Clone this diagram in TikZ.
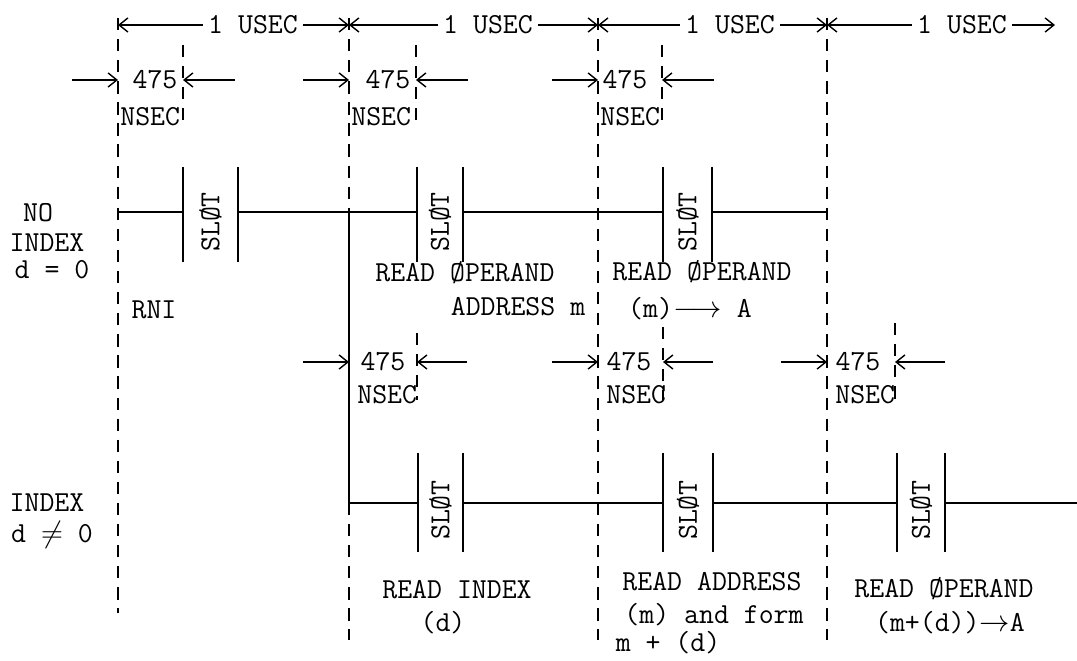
\documentclass[tikz,border=0pt]{standalone}
\usepackage{fontspec}
\usepackage{amsmath, amssymb}
\usetikzlibrary{arrows.meta}

\begin{document}
\begin{tikzpicture}[
                    x=0.02cm, y=-0.02cm,
                    txt/.style={font=\fontsize{16.5}{18}\selectfont\ttfamily, inner sep=0pt},
                    slotname/.style={txt, rotate=90},
                    bound/.style={line width=0.8pt, dash pattern=on 7pt off 5pt},
                    wave/.style={line width=1.2pt},
                    span/.style={line width=0.8pt, -{Straight Barb[length=5pt, width=8pt]}}
                ]
                \useasboundingbox (0,0) rectangle (1077,661);

                % 1 usec cycle boundaries
                \foreach \x/\yb/\i in {118/613/0, 349/640/1, 598/640/2, 827/640/3}{
                        \coordinate (top\i) at (\x,18);
                        \coordinate (bot\i) at (\x,\yb);
                        \draw[bound] (top\i) -- (bot\i);
                    }
                \coordinate (top4) at (1055,18);
                \foreach \i/\j/\c in {0/1/253, 1/2/488, 2/3/730, 3/4/962}{
                        \node[txt, inner xsep=3pt] (usec\i) at (\c,25) {1 USEC};
                        \draw[span] (usec\i.west) -- (top\i |- usec\i);
                        \draw[span] (usec\i.east) -- (top\j |- usec\i);
                    }

                % 475 nsec marks, no index
                \foreach \i/\x/\s/\c in {0/118/183/155, 1/349/416/388, 2/598/662/625}{
                        \draw[bound] (\s,45) coordinate (sa\i) -- (\s,120);
                        \node[txt] (nsa\i) at (\c,80) {475};
                        \node[txt, anchor=west] (nseca\i) at (\x+2,117) {NSEC};
                        \coordinate (la\i) at (\x-46,80);
                        \coordinate (ra\i) at (\s+52,80);
                        \draw[span] (la\i) -- (top\i |- la\i);
                        \draw[span] (ra\i) -- (sa\i |- ra\i);
                    }

                % 475 nsec marks, index
                \foreach \i/\x/\s/\c/\t in {1/349/417/383/333, 2/598/663/629/327, 3/827/895/858/323}{
                        \draw[bound] (\s,\t) coordinate (sb\i) -- (\s,400);
                        \node[txt] (nsb\i) at (\c,362) {475};
                        \node[txt, anchor=west] (nsecb\i) at (\x+8,395) {NSEC};
                        \coordinate (lb\i) at (\x-46,362);
                        \coordinate (rb\i) at (\s+50,362);
                        \draw[span] (lb\i) -- (top\i |- lb\i);
                        \draw[span] (rb\i) -- (sb\i |- rb\i);
                    }

                % no index line
                \draw[wave] (118,212) -- (183,212) (238,212) -- (417,212) (463,212) -- (663,212) (712,212) -- (827,212);
                \foreach \a/\b/\i in {183/238/1, 417/463/2, 663/712/3}{
                        \draw[wave] (\a,167) -- (\a,262) (\b,167) -- (\b,262);
                        \node[slotname] (slota\i) at ({(\a+\b)/2},222) {SLØT};
                    }

                % index line
                \draw[wave] (349,212) -- (349,503) -- (418,503) (463,503) -- (663,503) (713,503) -- (897,503) (945,503) -- (1077,503);
                \foreach \a/\b/\i in {418/463/1, 663/713/2, 897/945/3}{
                        \draw[wave] (\a,453) -- (\a,552) (\b,453) -- (\b,552);
                        \node[slotname] (slotb\i) at ({(\a+\b)/2},510) {SLØT};
                    }

                % row names
                \node[txt] (no) at (38,213) {NO};
                \node[txt] (noindex) at (47,243) {INDEX};
                \node[txt] (dzero) at (52,270) {d = 0};
                \node[txt] (index) at (47,503) {INDEX};
                \node[txt] (dnonzero) at (52,535) {d $\neq$ 0};

                % what each cycle does
                \node[txt] (rni) at (154,310) {RNI};
                \node[txt] (rdop) at (465,273) {READ ØPERAND};
                \node[txt] (addrm) at (518,307) {ADDRESS m};
                \node[txt] (rdopb) at (702,272) {READ ØPERAND};
                \node[txt] (mtoa) at (690,309) {(m)$\longrightarrow$ A};
                \node[txt] (rdidx) at (457,590) {READ INDEX};
                \node[txt] (dd) at (443,623) {(d)};
                \node[txt] (rdaddr) at (712,582) {READ ADDRESS};
                \node[txt] (mform) at (714,615) {(m) and form};
                \node[txt] (mpd) at (668,643) {m + (d)};
                \node[txt] (rdopc) at (944,589) {READ ØPERAND};
                \node[txt] (mdtoa) at (950,623) {(m+(d))$\rightarrow$A};
            \end{tikzpicture}
\end{document}
